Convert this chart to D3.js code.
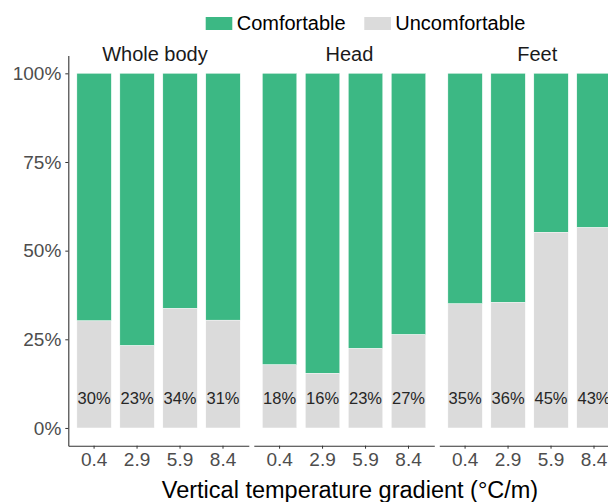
<!DOCTYPE html>
<html><head><meta charset="utf-8">
<script src="https://cdn.jsdelivr.net/npm/d3@7"></script>
<style>body{margin:0;background:#fff}svg{display:block;font-family:"Liberation Sans",Arial,sans-serif}</style>
</head><body><svg id="c" width="608" height="502"></svg>
<script>
const panels = ["Whole body", "Head", "Feet"];
const gradients = ["0.4", "2.9", "5.9", "8.4"];
const uncomfortable = [
  [30.2, 23.2, 33.7, 30.4],
  [17.8, 15.4, 22.4, 26.3],
  [35.0, 35.4, 55.2, 56.5]
];
const barLabels = [
  ["30%", "23%", "34%", "31%"],
  ["18%", "16%", "23%", "27%"],
  ["35%", "36%", "45%", "43%"]
];
const yTicks = [0, 0.25, 0.5, 0.75, 1];
const legendItems = ["Comfortable", "Uncomfortable"];

const GREEN = "#3cb884", GRAY = "#dbdbdb";
const svg = d3.select("#c");
const panelW = 180.5, gap = 5, left = 68.3;
const titleOffsets = [-3.6, 5.4, 7.7];
const y = d3.scaleLinear().domain([-0.05, 1.05]).range([445.7, 55.6]);
const x = d3.scaleBand().domain(gradients).range([0, panelW]).paddingInner(0.2).paddingOuter(0.2);

panels.forEach((p, i) => {
  const x0 = left + i * (panelW + gap);
  const g = svg.append("g").attr("transform", `translate(${x0},0)`);
  const rows = gradients.map((k, j) => ({k, u: uncomfortable[i][j] / 100, lab: barLabels[i][j]}));
  g.selectAll("rect.c").data(rows).join("rect")
    .attr("x", d => x(d.k)).attr("width", x.bandwidth())
    .attr("y", y(1)).attr("height", d => y(d.u) - y(1))
    .attr("fill", GREEN).attr("stroke", "#fff").attr("stroke-width", 0.4);
  g.selectAll("rect.u").data(rows).join("rect")
    .attr("x", d => x(d.k)).attr("width", x.bandwidth())
    .attr("y", d => y(d.u)).attr("height", d => y(0) - y(d.u))
    .attr("fill", GRAY).attr("stroke", "#fff").attr("stroke-width", 0.4);
  g.selectAll("text.l").data(rows).join("text")
    .attr("x", d => x(d.k) + x.bandwidth() / 2).attr("y", y(0.085))
    .attr("text-anchor", "middle").attr("dy", "0.35em")
    .attr("font-size", 16.5).attr("fill", "#262626").text(d => d.lab);
  // x axis
  const xa = g.append("g").attr("transform", `translate(0,${y(-0.05)})`)
    .call(d3.axisBottom(x).tickSize(3).tickPadding(4).tickSizeOuter(0));
  xa.select(".domain").attr("stroke", "#333").attr("stroke-width", 1.1);
  xa.selectAll(".tick line").attr("stroke", "#333");
  xa.selectAll("text").attr("font-size", 19).attr("fill", "#4d4d4d").attr("font-family", "Liberation Sans, Arial, sans-serif");
  // strip title
  g.append("text").attr("x", panelW / 2 + titleOffsets[i]).attr("y", 61)
    .attr("text-anchor", "middle").attr("font-size", 20).attr("fill", "#1a1a1a").text(p);
  if (i === 0) {
    const ya = g.append("g").call(d3.axisLeft(y).tickValues(yTicks).tickFormat(d3.format(".0%")).tickSize(3).tickPadding(4).tickSizeOuter(0));
    ya.select(".domain").attr("stroke", "#333").attr("stroke-width", 1.1);
    ya.selectAll(".tick line").attr("stroke", "#333");
    ya.selectAll("text").attr("font-size", 19).attr("fill", "#4d4d4d").attr("font-family", "Liberation Sans, Arial, sans-serif");
  }
});

svg.append("text").attr("x", 350).attr("y", 497.5).attr("text-anchor", "middle")
  .attr("font-size", 23.5).attr("fill", "#000").text("Vertical temperature gradient (°C/m)");

const legendX = [205.7, 364.3];
legendItems.forEach((t, i) => {
  svg.append("rect").attr("x", legendX[i]).attr("y", 17).attr("width", 26.6).attr("height", 13)
    .attr("fill", i === 0 ? GREEN : GRAY);
  svg.append("text").attr("x", legendX[i] + 31).attr("y", 29.5).attr("font-size", 20).attr("fill", "#000").text(t);
});
</script></body></html>
